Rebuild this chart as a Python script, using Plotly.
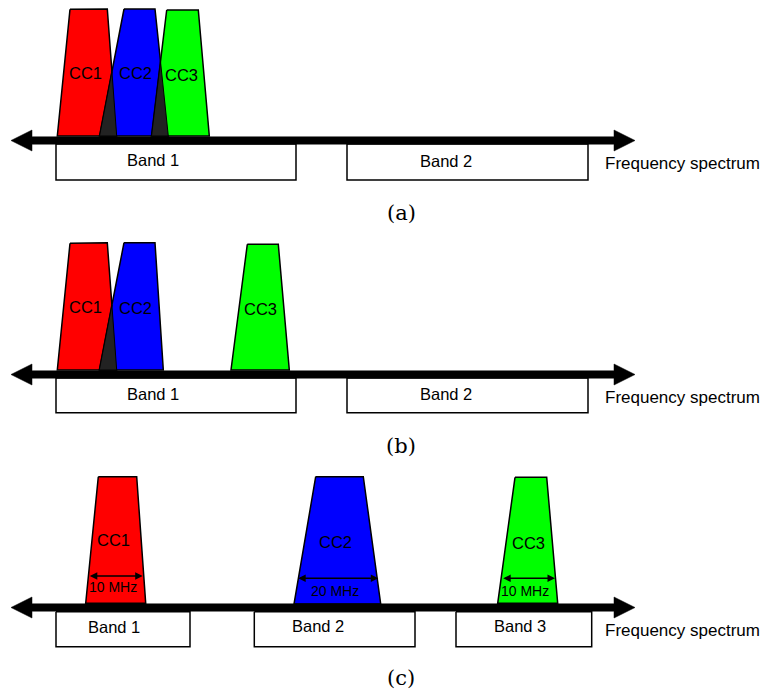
import plotly.graph_objects as go

W, H = 761, 693

# ---------------- data (pixel-space diagram geometry) ----------------
cc_names = ["CC1", "CC2", "CC3"]
cc_colors = ["#ff0000", "#0000ff", "#00ff00"]
overlap_color = "#222222"

# trapezoid corners: top-left, top-right, bottom-right, bottom-left
a_cc_x = [[70, 107.3, 116.7, 57.3], [124, 155, 168.3, 99.5], [166.7, 198.3, 209.3, 151.5]]
a_cc_y = [[9.3, 9, 136, 136], [9, 9, 136, 136], [10, 10, 136, 136]]
a_label_x = [85, 135, 181.7]
a_label_y = [73, 73, 75]
a_overlaps = [(0, 1), (1, 2)]

b_cc_x = [[70, 107.3, 116.7, 57.3], [124, 155, 163.3, 99.3], [247.3, 278.3, 289.3, 231]]
b_cc_y = [[243.3, 242.7, 370, 370], [242.7, 242.7, 370, 370], [244.3, 244.3, 370, 370]]
b_label_x = [85, 135, 260]
b_label_y = [307, 308, 309]
b_overlaps = [(0, 1)]

c_cc_x = [[98.3, 136.7, 145.7, 85.7], [315.7, 363.3, 380.7, 294], [515, 546.7, 557.7, 497.7]]
c_cc_y = [[476.7, 476.7, 603.3, 603.3], [476.7, 476.7, 604, 604], [477.3, 477.3, 603.3, 603.3]]
c_label_x = [113.3, 335, 528.3]
c_label_y = [540, 541.7, 542.7]
c_overlaps = []

# bandwidth markers in (c)
bw_x0 = [88.3, 296.7, 501.7]
bw_x1 = [142.7, 378.3, 555]
bw_y = [576, 578.3, 578.3]
bw_text = ["10 MHz", "20 MHz", "10 MHz"]
bw_text_x = [112.5, 335, 525]
bw_text_y = [587, 590.7, 590.7]

# frequency axes (one per panel)
axis_y = [140.5, 374.5, 607.5]
axis_left_tip = 11
axis_left_back = 32
axis_right_back = 614
axis_right_tip = 635
axis_half_bar = 3.7
axis_half_head = 10.5
spectrum_label = "Frequency spectrum"
spectrum_x = 603
spectrum_y = [163, 397, 630]

# bands
a_band_names = ["Band 1", "Band 2"]
a_band_x0 = [56, 347]
a_band_x1 = [296, 588]
a_band_y = [144, 180]
a_band_label_x = [152.5, 445.5]
a_band_label_y = [160, 161]
b_band_names = ["Band 1", "Band 2"]
b_band_x0 = [56, 347]
b_band_x1 = [296, 588]
b_band_y = [378, 412.7]
b_band_label_x = [152.5, 445.5]
b_band_label_y = [393.5, 394]
c_band_names = ["Band 1", "Band 2", "Band 3"]
c_band_x0 = [56, 254.3, 456]
c_band_x1 = [190, 415, 591.7]
c_band_y = [611.7, 646.7]
c_band_label_x = [114, 318, 520]
c_band_label_y = [627, 625.5, 625.5]

captions = ["(a)", "(b)", "(c)"]
caption_x = 401
caption_y = [213, 446, 678]

# ---------------- drawing ----------------
fig = go.Figure()
SANS = "Liberation Sans, Arial"


def poly(xs, ys, fill, lw=1.5, lc="black"):
    fig.add_trace(go.Scatter(
        x=list(xs) + [xs[0]], y=list(ys) + [ys[0]],
        mode="lines", fill="toself", fillcolor=fill,
        line=dict(color=lc, width=lw), hoverinfo="skip", showlegend=False))


def intersect(p1, p2, p3, p4):
    x1, y1 = p1; x2, y2 = p2; x3, y3 = p3; x4, y4 = p4
    d = (x1 - x2) * (y3 - y4) - (y1 - y2) * (x3 - x4)
    t = ((x1 - x3) * (y3 - y4) - (y1 - y3) * (x3 - x4)) / d
    return x1 + t * (x2 - x1), y1 + t * (y2 - y1)


def bands(names, x0s, x1s, yy, lxs, lys):
    for n, x0, x1, lx, ly in zip(names, x0s, x1s, lxs, lys):
        poly([x0, x1, x1, x0], [yy[0], yy[0], yy[1], yy[1]], "white", lw=1.5)
        fig.add_annotation(x=lx, y=ly, text=n, showarrow=False,
                           font=dict(family=SANS, size=16.5, color="black"))


def ccs(xs, ys, lx, ly, overlaps):
    for i in range(3):
        poly(xs[i], ys[i], cc_colors[i])
    for i, j in overlaps:
        p = intersect((xs[i][1], ys[i][1]), (xs[i][2], ys[i][2]),
                      (xs[j][0], ys[j][0]), (xs[j][3], ys[j][3]))
        poly([xs[j][3], xs[i][2], p[0]], [ys[j][3], ys[i][2], p[1]], overlap_color, lw=1)
    for i in range(3):
        fig.add_annotation(x=lx[i], y=ly[i], text=cc_names[i], showarrow=False,
                           font=dict(family=SANS, size=16.5, color="black"))


def freq_axis(yc):
    xs = [axis_left_tip, axis_left_back, axis_left_back, axis_right_back, axis_right_back,
          axis_right_tip, axis_right_back, axis_right_back, axis_left_back, axis_left_back]
    ys = [yc, yc - axis_half_head, yc - axis_half_bar, yc - axis_half_bar, yc - axis_half_head,
          yc, yc + axis_half_head, yc + axis_half_bar, yc + axis_half_bar, yc + axis_half_head]
    poly(xs, ys, "black", lw=0.5)


bands(a_band_names, a_band_x0, a_band_x1, a_band_y, a_band_label_x, a_band_label_y)
bands(b_band_names, b_band_x0, b_band_x1, b_band_y, b_band_label_x, b_band_label_y)
bands(c_band_names, c_band_x0, c_band_x1, c_band_y, c_band_label_x, c_band_label_y)

ccs(a_cc_x, a_cc_y, a_label_x, a_label_y, a_overlaps)
ccs(b_cc_x, b_cc_y, b_label_x, b_label_y, b_overlaps)
ccs(c_cc_x, c_cc_y, c_label_x, c_label_y, c_overlaps)

for yc in axis_y:
    freq_axis(yc)

for sy in spectrum_y:
    fig.add_annotation(x=spectrum_x, y=sy, text=spectrum_label, showarrow=False, xanchor="left",
                       font=dict(family=SANS, size=17, color="black"))

for x0, x1, y, t, tx, ty in zip(bw_x0, bw_x1, bw_y, bw_text, bw_text_x, bw_text_y):
    fig.add_annotation(x=x1, y=y, ax=x0, ay=y, xref="x", yref="y", axref="x", ayref="y",
                       text="", showarrow=True, arrowhead=2, arrowsize=1, arrowwidth=1.5,
                       arrowside="end+start", arrowcolor="black")
    fig.add_annotation(x=tx, y=ty, text=t, showarrow=False,
                       font=dict(family=SANS, size=14, color="black"))

for c, cy in zip(captions, caption_y):
    fig.add_annotation(x=caption_x, y=cy, text=c, showarrow=False,
                       font=dict(family="DejaVu Serif, Liberation Serif, serif", size=21, color="black"))

fig.update_layout(
    width=W, height=H, margin=dict(l=0, r=0, t=0, b=0),
    paper_bgcolor="white", plot_bgcolor="white", showlegend=False,
    xaxis=dict(range=[0, W], visible=False, fixedrange=True),
    yaxis=dict(range=[H, 0], visible=False, fixedrange=True),
)

fig.write_html("out.html")
